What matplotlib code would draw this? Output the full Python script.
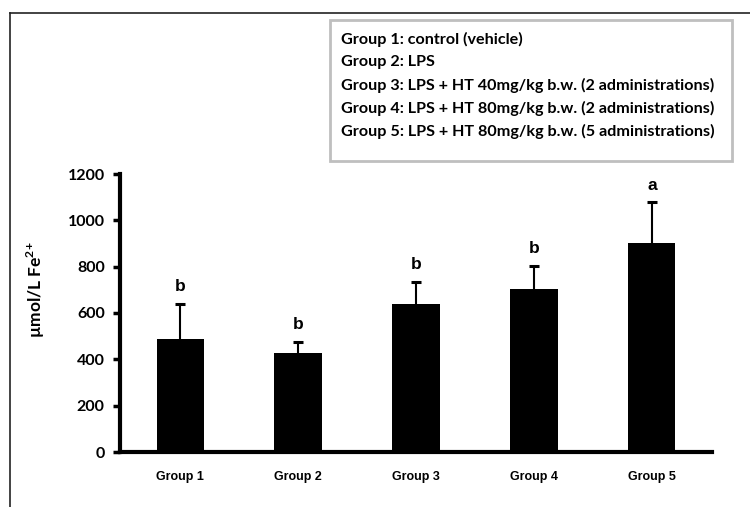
import matplotlib
matplotlib.use("Agg")
import matplotlib.pyplot as plt
from matplotlib.lines import Line2D
from matplotlib.patches import Rectangle

plt.rcParams["mathtext.fontset"] = "custom"
plt.rcParams["mathtext.bf"] = "Lato:bold"
plt.rcParams["mathtext.rm"] = "Lato:bold"

categories = ["Group 1", "Group 2", "Group 3", "Group 4", "Group 5"]
means = [487, 426, 639, 704, 900]
errors = [152, 48, 96, 100, 178]
letters = ["b", "b", "b", "b", "a"]
legend_lines = [
    "Group 1: control (vehicle)",
    "Group 2: LPS",
    "Group 3: LPS + HT 40mg/kg b.w. (2 administrations)",
    "Group 4: LPS + HT 80mg/kg b.w. (2 administrations)",
    "Group 5: LPS + HT 80mg/kg b.w. (5 administrations)",
]
yticks = [0, 200, 400, 600, 800, 1000, 1200]

W, H = 750, 507
fig = plt.figure(figsize=(W / 100, H / 100), dpi=100)

# outer partial frame (top and left)
fig.add_artist(Line2D([9.5 / W, 9.5 / W], [0, 1 - 13 / H], transform=fig.transFigure,
                      color="#222222", lw=1.2))
fig.add_artist(Line2D([9.5 / W, 1], [1 - 13 / H, 1 - 13 / H], transform=fig.transFigure,
                      color="#222222", lw=1.2))

ax = fig.add_axes([120 / W, 1 - 452 / H, (712 - 120) / W, (452 - 174) / H])
x = list(range(len(categories)))
tops = [m + e for m, e in zip(means, errors)]
ax.bar(x, means, width=0.4, color="black", zorder=2)
ax.vlines(x, means, tops, colors="black", linewidth=1.5, zorder=1)
ax.plot(x, tops, linestyle="none", marker="_", markersize=7, markeredgewidth=2.2,
        color="black", zorder=1)
for xi, t, l in zip(x, tops, letters):
    ax.annotate(l, (xi, t), xytext=(0, 7), textcoords="offset points",
                ha="center", va="bottom", fontsize=12.5, fontweight="bold",
                family="Liberation Sans")

ax.set_xlim(-0.51, 4.51)
ax.set_ylim(0, 1200)
ax.set_yticks(yticks)
ax.set_yticklabels([str(v) for v in yticks], fontsize=11.5, fontweight="bold", family="Lato")
ax.set_xticks(x)
ax.set_xticklabels(categories, fontsize=9, fontweight="bold", family="Liberation Sans")
ax.tick_params(axis="x", length=0, pad=14)
ax.tick_params(axis="y", direction="out", length=5, width=2.5, pad=6)
for s in ["top", "right"]:
    ax.spines[s].set_visible(False)
for s in ["left", "bottom"]:
    ax.spines[s].set_linewidth(3)
ax.set_ylabel("µmol/L Fe$^{\\mathbf{2}{\\mathbf{+}}}$", fontsize=12.5, fontweight="bold",
              family="Lato")
ax.yaxis.set_label_coords(-0.123, 0.585)

# legend text box
fig.add_artist(Rectangle((330 / W, 1 - 161 / H), (732 - 330) / W, (161 - 20) / H,
                         transform=fig.transFigure, fill=False, edgecolor="#bfbfbf", lw=2))
ys = [39, 62, 85, 108, 131]
for yy, t in zip(ys, legend_lines):
    fig.text(341 / W, 1 - yy / H, t, fontsize=11.6, fontweight="bold", family="Lato",
             ha="left", va="center")

fig.savefig("out.png", dpi=100)
